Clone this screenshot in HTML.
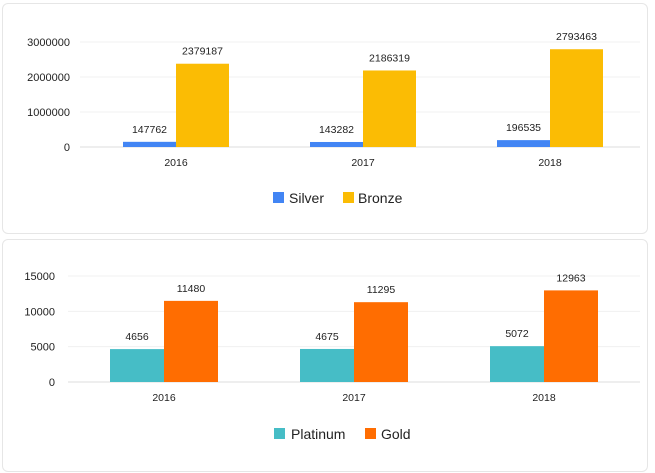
<!DOCTYPE html>
<html><head><meta charset="utf-8"><style>
body{margin:0;background:#fff;width:655px;height:473px;overflow:hidden;font-family:"Liberation Sans",sans-serif}
.card{position:absolute;left:2px;width:644px;border:1px solid #e6e6e6;border-radius:6px;background:#fff}
svg{position:absolute;left:0;top:0}
</style></head><body>
<div class="card" style="top:3px;height:229px"></div>
<div class="card" style="top:239px;height:231px"></div>
<svg id="s" width="655" height="473"></svg>
<script>
const cats=["2016","2017","2018"];
const silver=[147762,143282,196535];
const bronze=[2379187,2186319,2793463];
const platinum=[4656,4675,5072];
const gold=[11480,11295,12963];
const ticksTop=[0,1000000,2000000,3000000];
const ticksBot=[0,5000,10000,15000];
const svg=document.getElementById('s');
const NS='http://www.w3.org/2000/svg';
function mk(t,a,txt){const e=document.createElementNS(NS,t);for(const k in a)e.setAttribute(k,a[k]);if(txt!==undefined)e.textContent=txt;svg.appendChild(e);return e;}
function chart(o){
  const y=v=>o.y0-(v/o.max)*(o.y0-o.yTop);
  const x=i=>o.c0+i*o.step;
  o.ticks.forEach(t=>{
    const g=mk('line',{x1:o.gx,x2:640,y1:y(t),y2:y(t),stroke:t===0?'#ddd':'#f0f0f0','stroke-width':1});
    
    
    const l=mk('text',{x:o.lx,y:y(t)+4,'text-anchor':'end','font-size':11,fill:'#222'},String(t));
    
    
  });
  cats.forEach((c,i)=>{
    [[o.a,o.ca,-1],[o.b,o.cb,0]].forEach(([arr,col,off])=>{
      const v=arr[i],bx=x(i)+off*o.bw,by=y(v);
      const r=mk('rect',{x:bx,y:by,width:o.bw,height:o.y0-by,fill:col});
      
      
      const t=mk('text',{x:bx+o.bw/2,y:by-9,'text-anchor':'middle','font-size':10.5,fill:'#222'},String(v));
      
      
    });
    const xl=mk('text',{x:x(i),y:o.y0+19,'text-anchor':'middle','font-size':10.5,fill:'#222'},c);
    
    
  });
  o.legend.forEach(([name,col,sx,tx])=>{
    const r=mk('rect',{x:sx,y:o.ly-6,width:11,height:11,fill:col});
    
    
    const t=mk('text',{x:tx,y:o.ly+5,'font-size':14,fill:'#222'},name);
    
    
  });
}
chart({a:silver,b:bronze,ca:'#4285f4',cb:'#fbbc04',max:3000000,ticks:ticksTop,y0:147,yTop:42,gx:80,lx:70,c0:176,step:187,bw:53,ly:198,
  legend:[['Silver','#4285f4',273,289],['Bronze','#fbbc04',343,358]]});
chart({a:platinum,b:gold,ca:'#46bdc6',cb:'#ff6d01',max:15000,ticks:ticksBot,y0:382,yTop:276,gx:68,lx:55,c0:164,step:190,bw:54,ly:434,
  legend:[['Platinum','#46bdc6',274,291],['Gold','#ff6d01',365,381]]});
</script>
</body></html>
